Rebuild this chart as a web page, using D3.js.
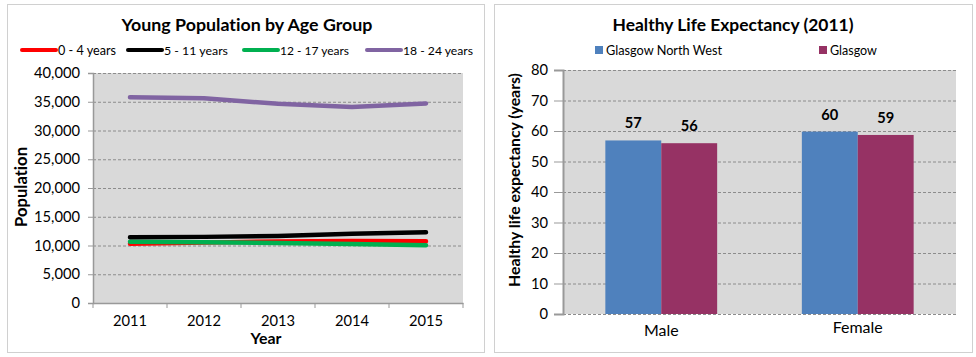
<!DOCTYPE html>
<html><head><meta charset="utf-8">
<script src="https://cdn.jsdelivr.net/npm/d3@7"></script>
<style>body{margin:0;background:#fff;} svg{display:block;} text{font-family:Lato, "Open Sans", sans-serif;fill:#000;font-variant-ligatures:none;font-feature-settings:"liga" 0;}</style>
</head><body><svg id="c" width="976" height="357"></svg>
<script>
// ---- Data: Young population ----
const years = ["2011","2012","2013","2014","2015"];
const seriesNames = ["0 - 4 years","5 - 11 years","12 - 17 years","18 - 24 years"];
const age0to4 = [10300, 10500, 10700, 10800, 10750];
const age5to11 = [11450, 11500, 11650, 12050, 12300];
const age12to17 = [10650, 10550, 10450, 10250, 10050];
const age18to24 = [35800, 35600, 34650, 34100, 34700];
const popTicks = [0,5000,10000,15000,20000,25000,30000,35000,40000];
// ---- Data: Healthy life expectancy ----
const sexes = ["Male","Female"];
const areas = ["Glasgow North West","Glasgow"];
const hleGNW = [56.9, 59.8];
const hleGlasgow = [56.0, 58.7];
const hleTicks = [0,10,20,30,40,50,60,70,80];

const svg = d3.select("#c");
const gridDash = "3,2";

function fit(sel, target){
  sel.each(function(){
    const fs = parseFloat(this.style.fontSize) || 14;
    const w = this.getComputedTextLength();
    if (w>0) this.style.fontSize = (fs*target/w).toFixed(2)+"px";
  });
  return sel;
}
function sizeFor(str, target, bold){
  const t = svg.append("text").style("font-size","14px").style("font-weight",bold?"bold":"normal").text(str);
  const w = t.node().getComputedTextLength(); t.remove();
  return (14*target/w).toFixed(2)+"px";
}

[[7,4,477,348],[494,4,478,348]].forEach(b=>{
  svg.append("rect").attr("x",b[0]+0.5).attr("y",b[1]+0.5).attr("width",b[2]).attr("height",b[3])
    .attr("fill","#fff").attr("stroke","#d0d0d0").attr("stroke-width",1);
});

const tickFs = sizeFor("40,000", 46, false);

// ===== Left chart =====
{
  const L=93,R=463,T=73,B=303;
  const x = d3.scaleBand().domain(years).range([L,R]);
  const y = d3.scaleLinear().domain([0,40000]).range([B,T]);
  svg.append("rect").attr("x",L).attr("y",T).attr("width",R-L).attr("height",B-T).attr("fill","#d9d9d9");
  svg.append("g").selectAll("line").data(popTicks.filter(d=>d>0)).join("line")
    .attr("x1",L).attr("x2",R).attr("y1",d=>y(d)+0.5).attr("y2",d=>y(d)+0.5)
    .attr("stroke","#8c8c8c").attr("stroke-dasharray",gridDash);
  const ya = svg.append("g").attr("transform",`translate(${L},0)`)
    .call(d3.axisLeft(y).tickValues(popTicks).tickFormat(d3.format(",")).tickSize(5).tickPadding(8));
  ya.select(".domain").attr("stroke","#999").attr("stroke-width",1.5);
  ya.selectAll(".tick line").attr("stroke","#999");
  ya.selectAll("text").style("font-size",tickFs).attr("fill","#000").attr("font-family",null);
  const xa = svg.append("g").attr("transform",`translate(0,${B})`)
    .call(d3.axisBottom(x).tickSize(0).tickPadding(13));
  xa.select(".domain").attr("stroke","#999").attr("stroke-width",1.5);
  xa.selectAll("text").style("font-size",tickFs).attr("fill","#000").attr("font-family",null);
  const bounds = years.map(d=>x(d)).concat([R]);
  svg.append("g").selectAll("line").data(bounds).join("line")
    .attr("x1",d=>d).attr("x2",d=>d).attr("y1",B).attr("y2",B+5).attr("stroke","#999");
  const cols = ["#ff0000","#000000","#00b050","#8064a2"];
  const data = [age0to4, age5to11, age12to17, age18to24];
  const line = d3.line().x((d,i)=>x(years[i])+x.bandwidth()/2).y(d=>y(d));
  [3,0,2,1].forEach(k=>{
    svg.append("path").attr("d",line(data[k])).attr("fill","none").attr("stroke",cols[k])
      .attr("stroke-width",4.5).attr("stroke-linejoin","round").attr("stroke-linecap","round");
  });
  fit(svg.append("text").attr("x",247).attr("y",31).attr("text-anchor","middle")
    .style("font-size","16.5px").style("font-weight","bold").text("Young Population by Age Group"), 251);
  const lx = [22,128,244,367];
  const lw = [58,64,69,70];
  seriesNames.forEach((n,i)=>{
    svg.append("line").attr("x1",lx[i]).attr("x2",lx[i]+34).attr("y1",50).attr("y2",50)
      .attr("stroke",cols[i]).attr("stroke-width",4).attr("stroke-linecap","round");
    fit(svg.append("text").attr("x",lx[i]+36).attr("y",54.5).style("font-size","13px").text(n), lw[i]);
  });
  fit(svg.append("text").attr("transform","translate(27,187) rotate(-90)").attr("text-anchor","middle")
    .style("font-size","14.5px").style("font-weight","bold").text("Population"), 80);
  fit(svg.append("text").attr("x",266).attr("y",344).attr("text-anchor","middle")
    .style("font-size","14.5px").style("font-weight","bold").text("Year"), 31);
}

// ===== Right chart =====
{
  const L=563,R=956,T=70,B=314;
  const x0 = d3.scaleBand().domain(sexes).range([L,R]);
  const bw = x0.bandwidth();
  const x1 = d3.scaleBand().domain(areas).range([bw*0.2155,bw*0.7845]);
  const y = d3.scaleLinear().domain([0,80]).range([B,T]);
  svg.append("rect").attr("x",L).attr("y",T).attr("width",R-L).attr("height",B-T).attr("fill","#d9d9d9");
  svg.append("g").selectAll("line").data(hleTicks).join("line")
    .attr("x1",L).attr("x2",R).attr("y1",d=>y(d)+0.5).attr("y2",d=>y(d)+0.5)
    .attr("stroke","#8c8c8c").attr("stroke-dasharray",gridDash);
  const cols = ["#4f81bd","#963264"];
  const vals = [hleGNW, hleGlasgow];
  const fmt = d3.format(".0f");
  const labFs = sizeFor("57", 17, true);
  areas.forEach((a,k)=>{
    sexes.forEach((s,i)=>{
      const bx = x0(s)+x1(a);
      svg.append("rect").attr("x",bx).attr("y",y(vals[k][i])).attr("width",x1.bandwidth())
        .attr("height",B-y(vals[k][i])).attr("fill",cols[k]);
      svg.append("text").attr("x",bx+x1.bandwidth()/2).attr("y",y(vals[k][i])-12)
        .attr("text-anchor","middle").style("font-size",labFs).style("font-weight","bold")
        .text(fmt(vals[k][i]));
    });
  });
  const ya = svg.append("g").attr("transform",`translate(${L},0)`)
    .call(d3.axisLeft(y).tickValues(hleTicks).tickSize(9).tickPadding(6));
  ya.select(".domain").attr("stroke","#999").attr("stroke-width",2);
  ya.selectAll(".tick line").attr("stroke","#999");
  ya.selectAll("text").style("font-size",tickFs).attr("fill","#000").attr("font-family",null);
  const xa = svg.append("g").attr("transform",`translate(0,${B})`)
    .call(d3.axisBottom(x0).tickSize(0).tickPadding(12));
  xa.select(".domain").remove();
  xa.selectAll("text").attr("fill","#000").attr("font-family",null)
    .style("font-size",sizeFor("Female", 50, false))
    .attr("dy",d=>d==="Female" ? "0.45em" : "0.62em");
  fit(svg.append("text").attr("x",733).attr("y",31).attr("text-anchor","middle")
    .style("font-size","16.5px").style("font-weight","bold").text("Healthy Life Expectancy (2011)"), 241);
  const lgx = [595,819];
  const lgw = [116,47];
  areas.forEach((a,i)=>{
    svg.append("rect").attr("x",lgx[i]).attr("y",46).attr("width",8).attr("height",8).attr("fill",cols[i]);
    fit(svg.append("text").attr("x",lgx[i]+11).attr("y",54.5).style("font-size","13.5px").text(a), lgw[i]);
  });
  fit(svg.append("text").attr("transform","translate(520,180) rotate(-90)").attr("text-anchor","middle")
    .style("font-size","14px").style("font-weight","bold").text("Healthy life expectancy (years)"), 214);
}
</script></body></html>
